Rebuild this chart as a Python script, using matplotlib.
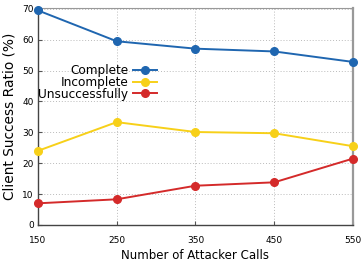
import matplotlib.pyplot as plt

calls = [150, 250, 350, 450, 550]
complete = [69.5, 59.5, 57.1, 56.2, 52.8]
incomplete = [24.0, 33.3, 30.1, 29.7, 25.5]
unsuccessful = [7.0, 8.3, 12.7, 13.8, 21.5]
yticks = [0, 10, 20, 30, 40, 50, 60, 70]

fig = plt.figure(figsize=(3.61, 2.64), dpi=100)
ax = fig.add_axes([0.105, 0.148, 0.873, 0.822])

ax.plot(calls, complete, color="#1f66b0", marker="o", ms=5.5, lw=1.4, label="Complete", clip_on=False, zorder=3)
ax.plot(calls, incomplete, color="#f7d019", marker="o", ms=5.5, lw=1.4, label="Incomplete", clip_on=False, zorder=3)
ax.plot(calls, unsuccessful, color="#d42a2a", marker="o", ms=5.5, lw=1.4, label="Unsuccessfully", clip_on=False, zorder=3)

ax.set_xlim(150, 550)
ax.set_ylim(0, 70.3)
ax.set_xticks(calls)
ax.set_yticks(yticks)
ax.tick_params(axis="both", direction="in", length=3, color="#555555", labelsize=6.5, pad=3)
ax.tick_params(axis="x", pad=8)
ax.grid(True, color="#bbbbbb", linestyle=(0, (1, 2)), linewidth=0.7)

for side in ["left", "bottom"]:
    ax.spines[side].set_color("#444444")
    ax.spines[side].set_linewidth(1.0)
ax.spines["top"].set_color("#999999")
ax.spines["top"].set_linewidth(0.8)
ax.spines["right"].set_color("#999999")
ax.spines["right"].set_linewidth(1.6)

ax.set_xlabel("Number of Attacker Calls", fontsize=8.5, labelpad=3)
ax.set_ylabel("Client Success Ratio (%)", fontsize=9.9, labelpad=4)

leg = ax.legend(loc="upper left", bbox_to_anchor=(-0.025, 0.78), markerfirst=False, frameon=False,
                fontsize=8.7, handlelength=2.0, handletextpad=0.35, labelspacing=-0.1,
                borderpad=0.2)
for t in leg.get_texts():
    t.set_ha("right")

fig.savefig("out.png", dpi=100)
